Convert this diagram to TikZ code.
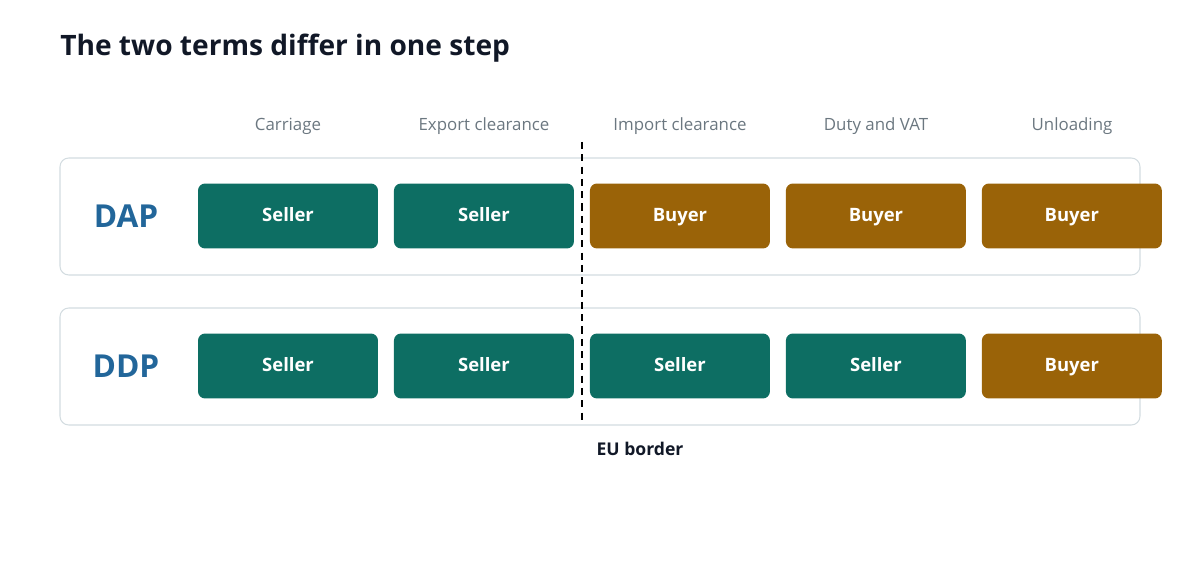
\documentclass[tikz,border=0pt]{standalone}
\usepackage{fontspec}
\setmainfont{Open Sans}
\usetikzlibrary{positioning}
\definecolor{tealc}{HTML}{0D6E63}
\definecolor{brownc}{HTML}{9A6308}
\definecolor{bluec}{HTML}{22669A}
\definecolor{grayc}{HTML}{6B7780}
\definecolor{framec}{HTML}{D3DCE0}
\definecolor{titlec}{HTML}{111827}
\begin{document}
\begin{tikzpicture}[x=0.02cm,y=-0.02cm]
  \tikzstyle{cell} = [rectangle, rounded corners=4pt, minimum width=3.6cm, minimum height=1.3cm, text=white, font=\fontsize{10.5}{12}\selectfont\bfseries, inner sep=0pt, outer sep=0pt, text height=1.6ex, text depth=0.4ex]
  \tikzstyle{seller} = [cell, fill=tealc]
  \tikzstyle{buyer} = [cell, fill=brownc]
  \tikzstyle{head} = [text=grayc, font=\fontsize{9.6}{11}\selectfont]
  \tikzstyle{term} = [text=bluec, font=\fontsize{18}{20}\selectfont\bfseries]
  \tikzstyle{row} = [draw=framec, rounded corners=5pt, line width=0.6pt]

  \useasboundingbox (0,0) rectangle (1200,580);
  \node (title) [anchor=west, inner sep=0pt, text=titlec, font=\fontsize{16}{18}\selectfont\bfseries] at (60,48)
  {The two terms differ in one step};

  \draw [row] (60,158) rectangle (1140,275);
  \draw [row] (60,308) rectangle (1140,425);

  \node (h1) [head] at (288,126) {Carriage};
  \node (h2) [head] at (484,126) {Export clearance};
  \node (h3) [head] at (680,126) {Import clearance};
  \node (h4) [head] at (876,126) {Duty and VAT};
  \node (h5) [head] at (1072,126) {Unloading};

  \node (dap) [term] at (126,216) {DAP};
  \node (dap1) [seller] at (288,216) {Seller};
  \node (dap2) [seller, right=0.32cm of dap1] {Seller};
  \node (dap3) [buyer, right=0.32cm of dap2] {Buyer};
  \node (dap4) [buyer, right=0.32cm of dap3] {Buyer};
  \node (dap5) [buyer, right=0.32cm of dap4] {Buyer};

  \node (ddp) [term] at (126,366) {DDP};
  \node (ddp1) [seller] at (288,366) {Seller};
  \node (ddp2) [seller, right=0.32cm of ddp1] {Seller};
  \node (ddp3) [seller, right=0.32cm of ddp2] {Seller};
  \node (ddp4) [seller, right=0.32cm of ddp3] {Seller};
  \node (ddp5) [buyer, right=0.32cm of ddp4] {Buyer};

  \coordinate (btop) at (582,142);
  \coordinate (bbot) at (582,422);
  \draw [line width=1pt, dash pattern=on 4pt off 3pt] (btop) -- (bbot);
  \node (border) [text=titlec, font=\fontsize{10}{12}\selectfont\bfseries] at (640,449) {EU border};
\end{tikzpicture}
\end{document}
